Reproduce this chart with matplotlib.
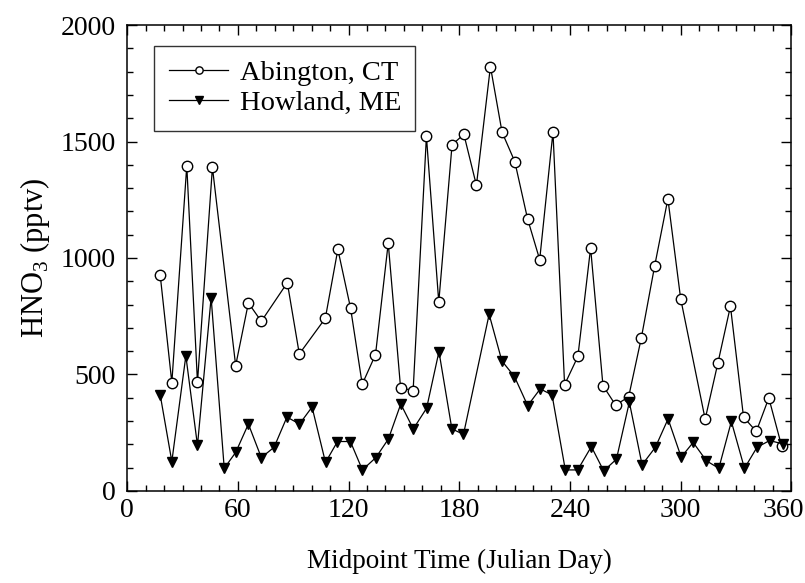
import numpy as np
import matplotlib
matplotlib.use("Agg")
import matplotlib.pyplot as plt
from matplotlib.ticker import MultipleLocator
from matplotlib.transforms import ScaledTranslation

plt.rcParams['font.family'] = ['Liberation Serif', 'DejaVu Serif']
plt.rcParams['mathtext.fontset'] = 'custom'
plt.rcParams['mathtext.rm'] = 'Liberation Serif'

# Abington, CT
day_ab = [17.9, 24.2, 32.3, 38.1, 46.2, 58.8, 65.7, 72.7, 86.8, 93.3, 107.4, 114.2,
          121.1, 127.4, 134.6, 141.5, 148.2, 155.0, 162.2, 168.9, 176.1, 182.5, 189.3,
          196.9, 203.2, 210.1, 217.0, 223.6, 230.8, 237.1, 244.3, 251.2, 257.9, 264.7,
          271.8, 278.7, 285.9, 293.1, 300.0, 313.3, 320.2, 327.0, 334.1, 341.0, 347.8,
          354.8]
hno3_ab = [926, 465, 1396, 466, 1389, 538, 807, 728, 894, 588, 741, 1037,
           784, 458, 585, 1064, 442, 431, 1522, 810, 1486, 1531, 1312,
           1822, 1540, 1414, 1169, 993, 1540, 456, 577, 1043, 452, 369,
           403, 657, 965, 1254, 826, 308, 549, 793, 317, 255, 399,
           191]

# Howland, ME
day_ho = [17.9, 24.2, 31.8, 38.1, 45.5, 52.6, 58.8, 65.7, 72.7, 79.6, 86.6, 93.4,
          100.2, 107.5, 114.0, 121.0, 127.5, 134.8, 141.6, 148.3, 155.1, 162.3, 169.0,
          176.0, 182.3, 196.2, 203.1, 209.9, 217.1, 223.9, 230.3, 237.5, 244.2, 251.6,
          258.3, 265.2, 272.2, 279.1, 286.3, 293.2, 300.3, 306.8, 314.0, 320.7, 327.5,
          334.6, 341.4, 348.2, 355.4]
hno3_ho = [412, 126, 580, 195, 830, 97, 165, 287, 143, 187, 317, 287,
           360, 122, 212, 212, 90, 143, 223, 373, 266, 355, 598,
           266, 243, 758, 558, 491, 366, 438, 412, 90, 90, 190,
           86, 136, 381, 112, 187, 309, 145, 208, 129, 97, 298,
           97, 187, 216, 202]

fig = plt.figure(figsize=(8.05, 5.83), dpi=100)
ax = fig.add_axes([0.158, 0.158, 0.825, 0.799])

ax.plot(day_ab, hno3_ab, '-o', color='black', lw=0.9, ms=7.5,
        mfc='white', mec='black', mew=1.0, label='Abington, CT')
ax.plot(day_ho, hno3_ho, '-v', color='black', lw=0.9, ms=7.5,
        mfc='black', mec='black', label='Howland, ME')

ax.set_xlim(0, 360)
ax.set_ylim(0, 2000)
ax.xaxis.set_major_locator(MultipleLocator(60))
ax.xaxis.set_minor_locator(MultipleLocator(10))
ax.yaxis.set_major_locator(MultipleLocator(500))
ax.yaxis.set_minor_locator(MultipleLocator(100))
ax.tick_params(which='both', direction='in', top=True, right=True, labelsize=20, width=1)
ax.tick_params(which='major', length=7)
ax.tick_params(which='minor', length=4)
ax.tick_params(axis='x', which='major', pad=5)
ax.tick_params(axis='y', which='major', pad=8)
for s in ax.spines.values():
    s.set_linewidth(1.1)

ax.set_xlabel('Midpoint Time (Julian Day)', fontsize=19.5, labelpad=19)
ax.set_ylabel(r'HNO$_3$ (pptv)', fontsize=22, labelpad=6)

leg = ax.legend(loc='upper left', bbox_to_anchor=(0.041, 0.955), fontsize=20.5,
                frameon=True, fancybox=False, edgecolor='black', markerscale=0.7,
                handlelength=2.1, borderpad=0.5, labelspacing=0.15, handletextpad=0.4,
                borderaxespad=0)
leg.get_frame().set_linewidth(1.0)

# keep the "360" label inside the figure, as in the original
fig.canvas.draw()
for lab in ax.get_xticklabels():
    if lab.get_text() == '360':
        lab.set_transform(lab.get_transform() + ScaledTranslation(-0.08, 0, fig.dpi_scale_trans))

fig.savefig('out.png', dpi=100)
